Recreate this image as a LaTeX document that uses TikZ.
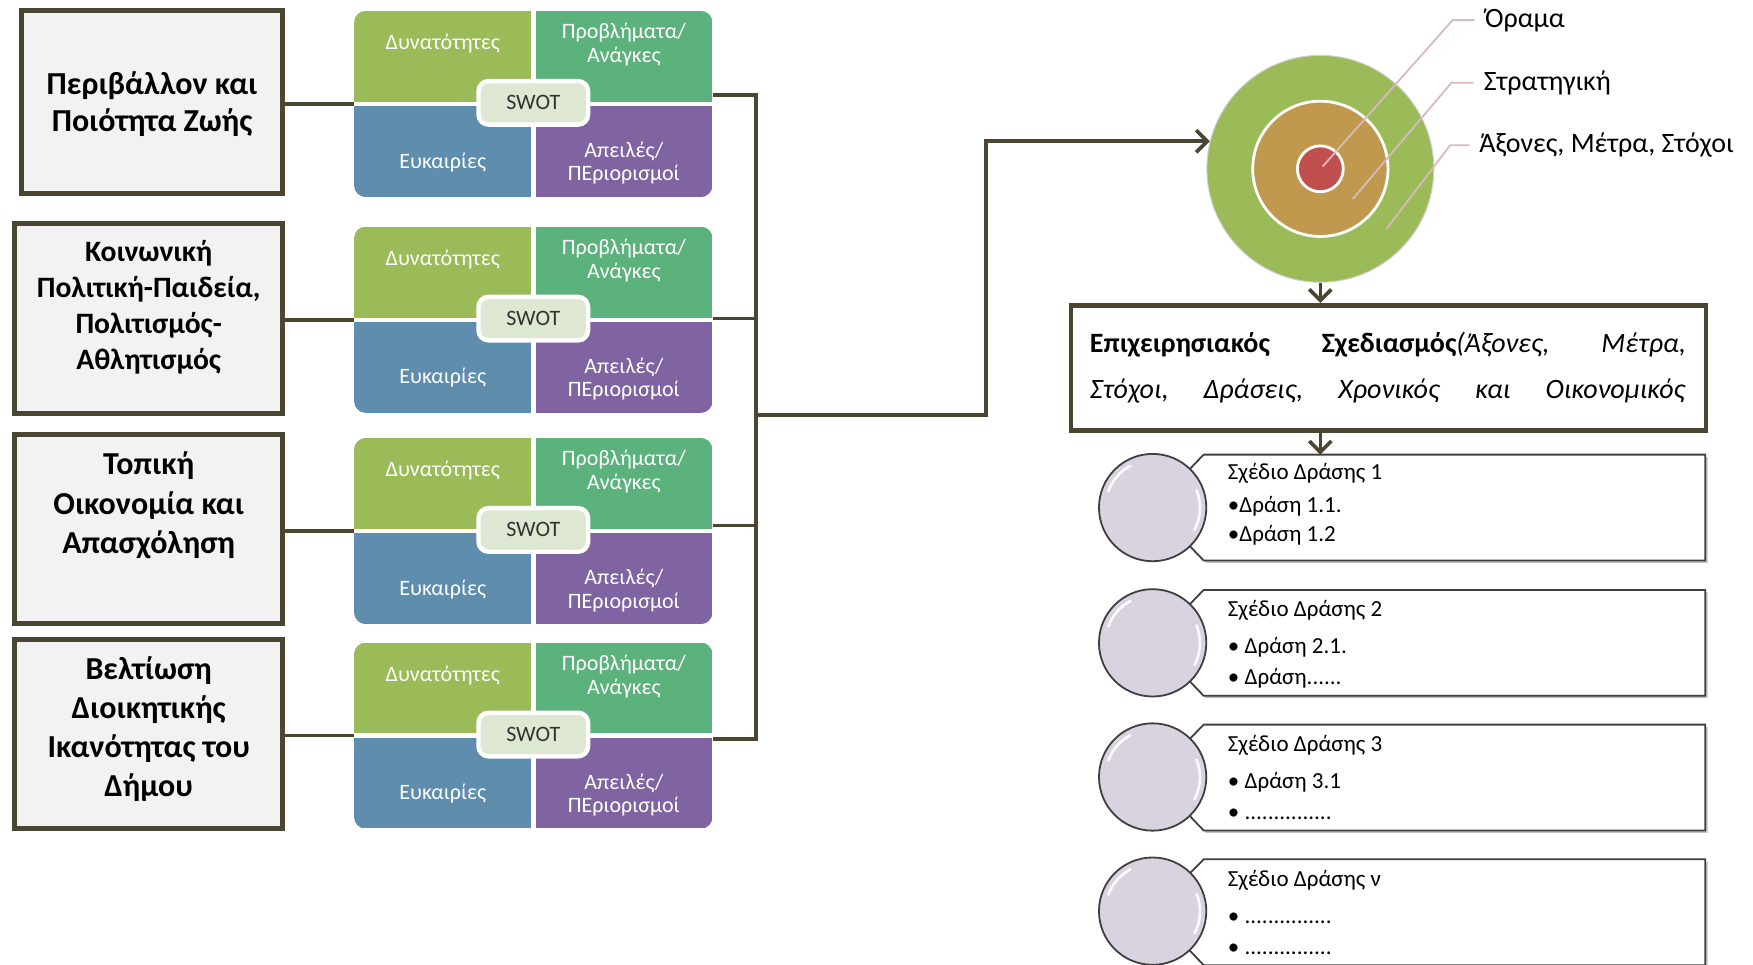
\documentclass[tikz,border=0pt]{standalone}
\usepackage{fontspec}
\setmainfont{Carlito}
\usetikzlibrary{arrows.meta,shadows}
\definecolor{olivedark}{HTML}{4B4632}
\definecolor{boxgray}{HTML}{F2F2F2}
\definecolor{qgreen}{HTML}{9BBB59}
\definecolor{qteal}{HTML}{5BB27C}
\definecolor{qblue}{HTML}{5F8DAD}
\definecolor{qpurple}{HTML}{8064A2}
\definecolor{swotfill}{HTML}{DEE7D1}
\definecolor{ringgreen}{HTML}{9BBB59}
\definecolor{ringtan}{HTML}{C0994F}
\definecolor{ringred}{HTML}{C0504D}
\definecolor{pinkline}{HTML}{D9BABC}
\definecolor{lavfill}{HTML}{D8D3DF}
\definecolor{calloutline}{HTML}{3F3F3F}
\def\U{0.559pt}
\begin{document}
\begin{tikzpicture}[x=0.559pt,y=-0.559pt,
  topicbox/.style={draw=olivedark, line width=2.5pt, fill=boxgray, inner sep=0pt},
  topictext/.style={font=\fontsize{16}{18.6}\selectfont\bfseries, align=center, inner sep=0pt},
  quad/.style={inner sep=0pt, minimum width=158*\U, minimum height=81*\U},
  quadtext/.style={inner sep=0pt, text=white, font=\fontsize{11}{11.8}\selectfont, align=center},
  swotlabel/.style={draw=white, line width=2.2pt, fill=swotfill, rounded corners=5pt, minimum width=98*\U, minimum height=39*\U, inner sep=0pt, font=\fontsize{11}{13}\selectfont, text=black!80},
  link/.style={draw=olivedark, line width=1.8pt},
  arr/.style={link, -{Straight Barb[length=5.5pt, width=11pt]}},
  ring/.style={circle, draw=white, inner sep=0pt},
  circlabel/.style={anchor=west, inner ysep=0pt, inner xsep=5pt, font=\fontsize{14}{16}\selectfont},
  pinkln/.style={draw=pinkline, line width=0.9pt},
  actrect/.style={inner sep=0pt, minimum width=448*\U, minimum height=94*\U},
  callout/.style={draw=calloutline, line width=0.9pt, fill=white, line join=miter,
     drop shadow={shadow xshift=1.2pt, shadow yshift=-1.2pt, opacity=0.35, fill=black!70}},
  actcircle/.style={circle, inner sep=0pt, minimum size=96*\U, fill=lavfill, draw=calloutline, line width=0.9pt},
  acthl/.style={circle, inner sep=0pt, minimum size=84*\U},
  hlarc/.style={draw=white, line width=1.3pt, line cap=round, opacity=0.9},
  acttext/.style={anchor=west, inner sep=0pt, font=\fontsize{11.5}{13}\selectfont}
]
\useasboundingbox (0,0) rectangle (1568,863);
\clip (0,0) rectangle (1568,863);

% ---------- topic boxes ----------
\node[topicbox, minimum width=234*\U, minimum height=164*\U] (b1) at (136,91) {};
\node[topictext] (bt1) at (136,93) {Περιβάλλον και\\Ποιότητα Ζωής};
\node[topicbox, minimum width=240*\U, minimum height=170*\U] (b2) at (133,285) {};
\node[topictext, font=\fontsize{14.8}{18}\selectfont\bfseries] (bt2) at (133,275) {Κοινωνική\\Πολιτική-Παιδεία,\\Πολιτισμός-\\Αθλητισμός};
\node[topicbox, minimum width=240*\U, minimum height=169*\U] (b3) at (133,473.5) {};
\node[topictext, font=\fontsize{16}{19.6}\selectfont\bfseries] (bt3) at (133,452) {Τοπική\\Οικονομία και\\Απασχόληση};
\node[topicbox, minimum width=240*\U, minimum height=169*\U] (b4) at (133,656.5) {};
\node[topictext, font=\fontsize{16}{19.6}\selectfont\bfseries] (bt4) at (133,652) {Βελτίωση\\Διοικητικής\\Ικανότητας του\\Δήμου};

% ---------- SWOT blocks ----------
\foreach \T/\n in {10/1,203/2,392/3,575/4}{
  \node[minimum width=320*\U, minimum height=166*\U, inner sep=0pt] (s\n) at (477,\T+83) {};
  \begin{scope}
    \clip[rounded corners=6pt] (s\n.north west) rectangle (s\n.south east);
    \node[quad, fill=qgreen, anchor=north west] (qa\n) at (s\n.north west) {};
    \node[quad, fill=qteal, anchor=north east] (qb\n) at (s\n.north east) {};
    \node[quad, fill=qblue, anchor=south west] (qc\n) at (s\n.south west) {};
    \node[quad, fill=qpurple, anchor=south east] (qd\n) at (s\n.south east) {};
  \end{scope}
  \node[quadtext] (wa\n) at (396,\T+29) {Δυνατότητες};
  \node[quadtext] (wb\n) at (558,\T+30) {Προβλήματα/\\Ανάγκες};
  \node[quadtext] (wc\n) at (396,\T+135) {Ευκαιρίες};
  \node[quadtext] (wd\n) at (558,\T+136) {Απειλές/\\ΠΕριορισμοί};
  \node[swotlabel] (l\n) at (477,\T+82) {SWOT};
}

% ---------- connectors left ----------
\draw[link] (b1.east |- s1.west) -- (s1.west);
\draw[link] (b2.east |- s2.west) -- (s2.west);
\draw[link] (b3.east |- s3.west) -- (s3.west);
\draw[link] (b4.east |- s4.west) -- (s4.west);

% ---------- bus right ----------
\coordinate (bus1) at (676,85);
\coordinate (bus2) at (676,285);
\coordinate (bus3) at (676,470);
\coordinate (bus4) at (676,661);
\coordinate (busm) at (676,371);
\coordinate (elbow) at (882,371);
\draw[link] (s1.east |- bus1) -- (bus1) -- (bus4) -- (s4.east |- bus4);
\draw[link] (s2.east |- bus2) -- (bus2);
\draw[link] (s3.east |- bus3) -- (bus3);

% ---------- target circle ----------
\node[ring, fill=ringgreen, draw=black!18, line width=0.5pt, minimum size=203*\U] (vision) at (1181,151) {};
\node[ring, fill=ringtan, line width=1.4pt, minimum size=121*\U] (strat) at (1181,151) {};
\node[ring, fill=ringred, line width=1.4pt, minimum size=41*\U] (core) at (1181,151) {};

\draw[arr] (busm) -- (elbow) |- (vision.166);

\node[circlabel] (lo) at (1319,18) {Όραμα};
\node[circlabel] (ls) at (1318,74) {Στρατηγική};
\node[circlabel] (la) at (1314,130) {Άξονες, Μέτρα, Στόχοι};
\coordinate (po) at (1183,149);
\coordinate (ps) at (1210,178);
\coordinate (pa) at (1240,205);
\draw[pinkln] (po) -- ([xshift=-11pt]lo.west) -- (lo.west);
\draw[pinkln] (ps) -- ([xshift=-11pt]ls.west) -- (ls.west);
\draw[pinkln] (pa) -- ([xshift=-9.5pt]la.west) -- (la.west);

% ---------- plan box ----------
\node[draw=olivedark, line width=2.3pt, fill=white, inner sep=0pt, minimum width=568*\U, minimum height=112*\U] (plan) at (1242,329) {};
\node[inner sep=0pt, text width=298pt, align=left, font=\fontsize{14}{23}\selectfont] (plantext) at (1241.5,328.5)
 {\makebox[298pt][s]{\textbf{Επιχειρησιακός}\hfill\textbf{Σχεδιασμός}\textit{(Άξονες,}\hfill\textit{Μέτρα,}}\\
  \makebox[298pt][s]{\textit{Στόχοι,}\hfill\textit{Δράσεις,}\hfill\textit{Χρονικός}\hfill\textit{και}\hfill\textit{Οικονομικός}}};

\draw[arr] (vision.south) -- (vision.south |- plan.north);

% ---------- action plans ----------
\node[actrect] (act1) at (1301,454) {};
\node[actrect] (act2) at (1301,575) {};
\node[actrect] (act3) at (1301,695.5) {};
\node[actrect] (act4) at (1301,816) {};
\coordinate (cc1) at (1031,454);
\coordinate (cc2) at (1031,575);
\coordinate (cc3) at (1031,695);
\coordinate (cc4) at (1031,815);

\foreach \n in {1,2,3,4}{
  \draw[callout] (act\n.north west) -- (act\n.north east) -- (act\n.south east) -- (act\n.south west) -- (cc\n) -- cycle;
  \node[actcircle] (ac\n) at (cc\n) {};
  \node[acthl] (ah\n) at (cc\n) {};
  \draw[hlarc] (ah\n.118) arc[start angle=118, end angle=160, radius=42*\U];
  \draw[hlarc] (ah\n.-28) arc[start angle=-28, end angle=22, radius=42*\U];
}

\draw[arr] (vision.south |- plan.south) -- (vision.south |- act1.north);

\node[acttext] (t1a) at (1098,423) {Σχέδιο Δράσης 1};
\node[acttext] (t1b) at (1098,453) {•Δράση 1.1.};
\node[acttext] (t1c) at (1098,479) {•Δράση 1.2};
\node[acttext] (t2a) at (1098,546) {Σχέδιο Δράσης 2};
\node[acttext] (t2b) at (1098,579) {• Δράση 2.1.};
\node[acttext] (t2c) at (1098,607) {• Δράση......};
\node[acttext] (t3a) at (1098,667) {Σχέδιο Δράσης 3};
\node[acttext] (t3b) at (1098,700) {• Δράση 3.1};
\node[acttext] (t3c) at (1098,728) {• ...............};
\node[acttext] (t4a) at (1098,787) {Σχέδιο Δράσης ν};
\node[acttext] (t4b) at (1098,821) {• ...............};
\node[acttext] (t4c) at (1098,849) {• ...............};
\end{tikzpicture}
\end{document}
